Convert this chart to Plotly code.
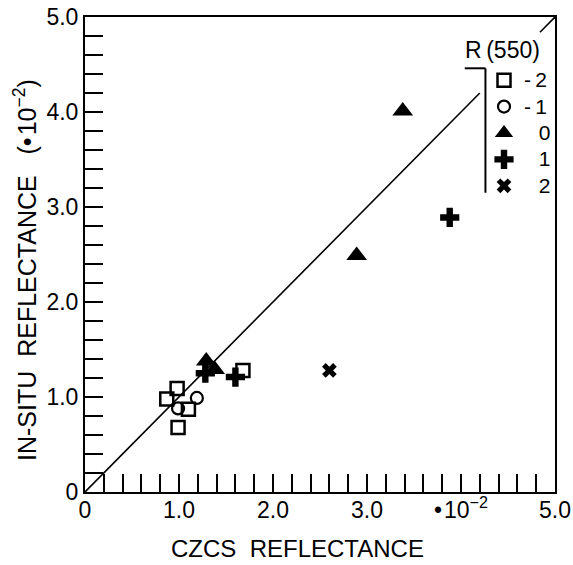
import plotly.graph_objects as go

# ---- data ----
sq_x = [0.98, 0.87, 1.10, 0.99, 1.68]
sq_y = [1.09, 0.98, 0.87, 0.68, 1.28]
ci_x = [1.19, 0.99]
ci_y = [0.99, 0.88]
tr_x = [1.29, 1.38, 2.89, 3.38]
tr_y = [1.38, 1.29, 2.49, 4.01]
pl_x = [1.28, 1.60, 3.88]
pl_y = [1.25, 1.21, 2.89]
xx_x = [2.60]
xx_y = [1.28]

legend_labels = ["-2", "-1", "0", "1", "2"]
tick_vals = [0, 1, 2, 3, 4, 5]
x_tick_text = ["0", "1.0", "2.0", "3.0", "\u2022\u200a10<sup>\u22122</sup>", "5.0"]
y_tick_text = ["0", "1.0", "2.0", "3.0", "4.0", "5.0"]
one_to_one_x = [0, 4.2, None, 4.84, 5.0]
one_to_one_y = [0, 4.2, None, 4.84, 5.0]

FONT = "Liberation Sans, Arial, sans-serif"
BLACK = "#000000"


def legend_name(label):
    # negative labels keep the hyphen in front; the digits line up in one column
    if label.startswith("-"):
        body = "-\u2009" + label[1:]
    else:
        body = "\u2002\u2009" + label
    return f'<span style="font-size:21px">{body}</span>'


fig = go.Figure()

fig.add_trace(go.Scatter(x=one_to_one_x, y=one_to_one_y, mode="lines",
                         line=dict(color=BLACK, width=1.6), showlegend=False,
                         hoverinfo="skip"))

fig.add_trace(go.Scatter(x=sq_x, y=sq_y, mode="markers", name=legend_name(legend_labels[0]),
                         marker=dict(symbol="square-open", size=13, color=BLACK,
                                     line=dict(width=2.5, color=BLACK))))
fig.add_trace(go.Scatter(x=ci_x, y=ci_y, mode="markers", name=legend_name(legend_labels[1]),
                         marker=dict(symbol="circle-open", size=12, color=BLACK,
                                     line=dict(width=2.2, color=BLACK))))
fig.add_trace(go.Scatter(x=tr_x, y=tr_y, mode="markers", name=legend_name(legend_labels[2]),
                         marker=dict(symbol="triangle-up", size=18, color=BLACK,
                                     line=dict(width=0))))
fig.add_trace(go.Scatter(x=pl_x, y=pl_y, mode="markers", name=legend_name(legend_labels[3]),
                         marker=dict(symbol="cross", size=16, color=BLACK,
                                     line=dict(width=0))))
fig.add_trace(go.Scatter(x=xx_x, y=xx_y, mode="markers", name=legend_name(legend_labels[4]),
                         marker=dict(symbol="x", size=13, color=BLACK,
                                     line=dict(width=0))))

axis_common = dict(
    range=[0, 5], showgrid=False, zeroline=False,
    showline=True, mirror=True, linecolor=BLACK, linewidth=2,
    ticks="inside", ticklen=18, tickwidth=2, tickcolor=BLACK,
    tickvals=tick_vals,
    minor=dict(dtick=0.2, tick0=0, ticks="inside", ticklen=18, tickwidth=2,
               tickcolor=BLACK, showgrid=False),
    tickfont=dict(family=FONT, size=23, color=BLACK),
    fixedrange=True, automargin=False,
)

fig.update_xaxes(**axis_common, ticktext=x_tick_text, ticklabelstandoff=-4)
fig.update_yaxes(**axis_common, ticktext=y_tick_text, ticklabelstandoff=0)

# legend bracket (in data coords of the plot frame)
fig.add_shape(type="line", x0=4.04, y0=4.46, x1=4.26, y1=4.46,
              line=dict(color=BLACK, width=2))
fig.add_shape(type="line", x0=4.26, y0=4.46, x1=4.26, y1=3.15,
              line=dict(color=BLACK, width=2))

fig.add_annotation(text="R\u2009(550)", x=4.44, y=4.655, xref="x", yref="y",
                   xanchor="center", yanchor="middle",
                   showarrow=False, font=dict(family=FONT, size=23, color=BLACK))

fig.add_annotation(text="CZCS\u00a0\u00a0REFLECTANCE", xref="paper", yref="paper",
                   x=(297 - 85) / 470, y=-(548 - 492) / 475,
                   xanchor="center", yanchor="middle", showarrow=False,
                   font=dict(family=FONT, size=24, color=BLACK))
fig.add_annotation(text="IN-SITU\u00a0\u00a0REFLECTANCE\u00a0\u00a0\u00a0(\u2022\u200a10<sup>\u22122</sup>)",
                   xref="paper", yref="paper",
                   x=-(85 - 25) / 470, y=(492 - 270) / 475,
                   xanchor="center", yanchor="middle", textangle=-90,
                   showarrow=False, font=dict(family=FONT, size=25, color=BLACK))

fig.update_layout(
    width=573, height=565,
    margin=dict(l=85, r=18, t=17, b=73, autoexpand=False),
    paper_bgcolor="white", plot_bgcolor="white",
    font=dict(family=FONT, color=BLACK),
    showlegend=True,
    legend=dict(x=(484 - 85) / 470, y=(492 - 62) / 475, xanchor="left", yanchor="top",
                font=dict(family=FONT, size=18, color=BLACK),
                bgcolor="rgba(0,0,0,0)", borderwidth=0, itemwidth=30,
                tracegroupgap=0),
)

fig.write_html("out.html")
